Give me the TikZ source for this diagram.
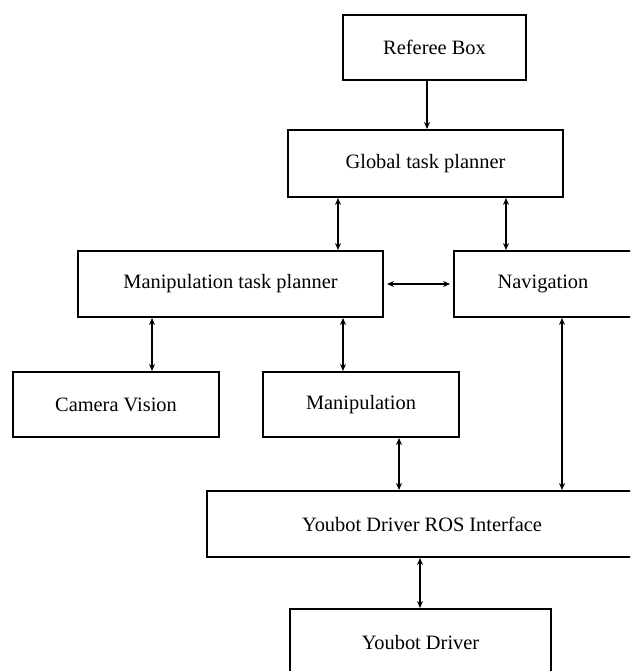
\documentclass[tikz,border=0pt]{standalone}
\usepackage{fontspec}
\setmainfont{Liberation Serif}
\usetikzlibrary{arrows.meta}
\begin{document}
\begin{tikzpicture}[x=1pt,y=-1pt,
  box/.style={draw, line width=2pt, rectangle, inner sep=0pt, align=center,
    font=\fontsize{20.4}{24}\selectfont},
  arr/.style={line width=1.8pt, -{Stealth[length=7pt,width=6pt]}},
  darr/.style={line width=1.8pt, {Stealth[length=7pt,width=6pt]}-{Stealth[length=7pt,width=6pt]}}]
\useasboundingbox (0,0) rectangle (630,671);
\clip (0,0) rectangle (630,671);
\node[box, minimum width=183pt, minimum height=65pt] (ref)  at (434.5,47.5) {Referee Box};
\node[box, minimum width=275pt, minimum height=67pt] (glob) at (425.5,163.5) {Global task planner};
\node[box, minimum width=305pt, minimum height=66pt] (mtp)  at (230.5,284) {Manipulation task planner};
\node[box, minimum width=178pt, minimum height=66pt] (nav)  at (543,284) {Navigation};
\node[box, minimum width=206pt, minimum height=65pt] (cam)  at (116,404.5) {Camera Vision};
\node[box, minimum width=196pt, minimum height=65pt] (man)  at (361,404.5) {Manipulation};
\node[box, minimum width=430pt, minimum height=66pt] (ros)  at (422,524) {Youbot Driver ROS Interface};
\node[box, minimum width=261pt, minimum height=68pt] (drv)  at (420.5,643) {Youbot Driver};

\draw[arr]  (ref.south -| 427,0) -- (glob.north -| 427,0);
\draw[darr] (glob.south -| 338,0) -- (mtp.north -| 338,0);
\draw[darr] (glob.south -| 506,0) -- (nav.north -| 506,0);
\draw[darr] ([xshift=3pt]mtp.east) -- ([xshift=-3pt]nav.west);
\draw[darr] (mtp.south -| 152,0) -- (cam.north -| 152,0);
\draw[darr] (mtp.south -| 343,0) -- (man.north -| 343,0);
\draw[darr] (man.south -| 399,0) -- (ros.north -| 399,0);
\draw[darr] (nav.south -| 562,0) -- (ros.north -| 562,0);
\draw[darr] (ros.south -| 420,0) -- (drv.north -| 420,0);
\end{tikzpicture}
\end{document}
